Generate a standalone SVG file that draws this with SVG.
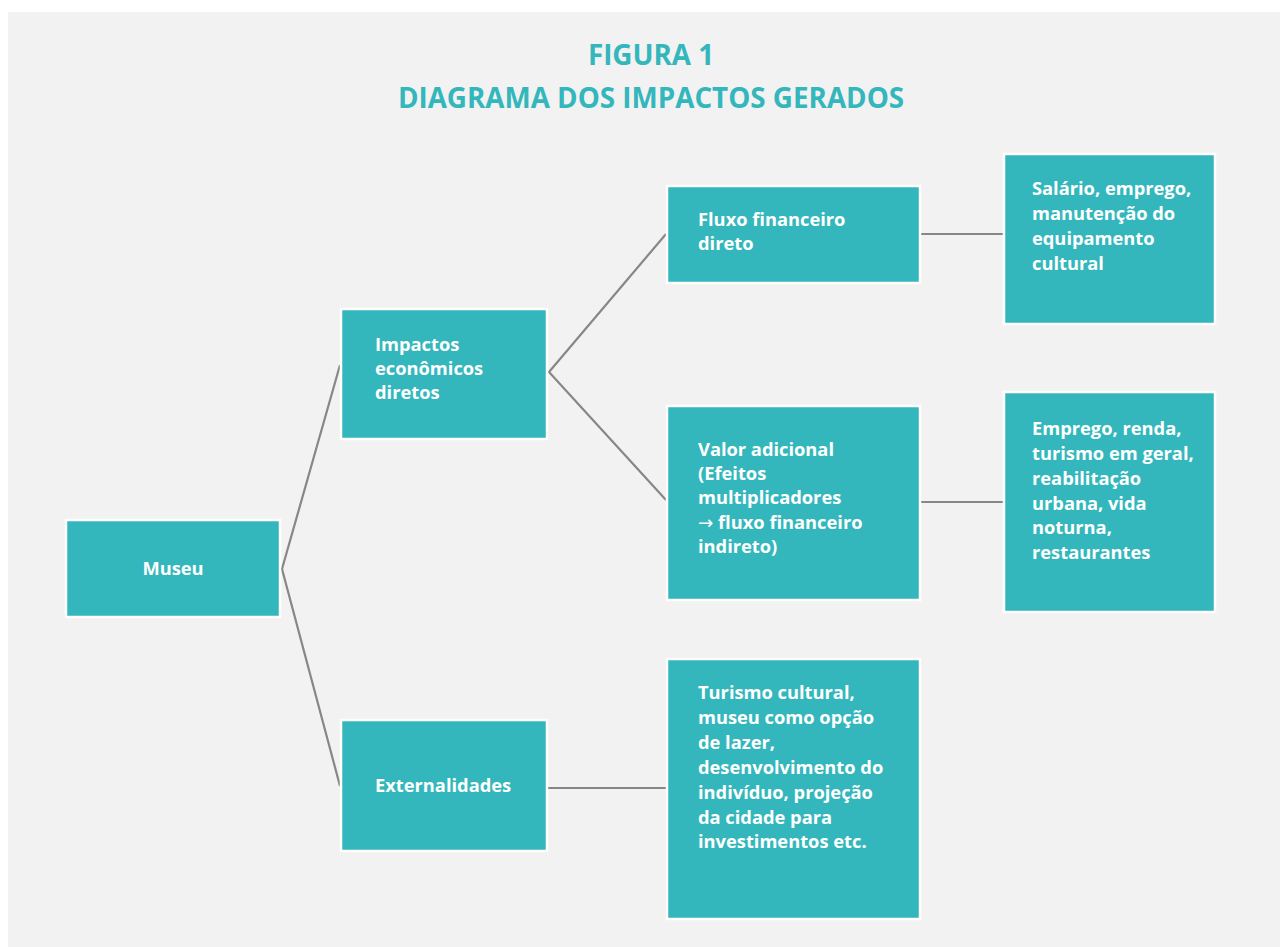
<svg xmlns="http://www.w3.org/2000/svg" width="1280" height="947" viewBox="0 0 1280 947">
<style>
.node{fill:#33b7bc;stroke:#ffffff;stroke-width:2.5}
.t{font-family:"Open Sans","Liberation Sans",sans-serif;font-weight:700;font-size:18.3px;fill:#ffffff}
.arr{font-family:"DejaVu Sans",sans-serif;font-weight:400}
.title{font-family:"Open Sans","Liberation Sans",sans-serif;font-weight:700;font-size:27.8px;fill:#33b7bc;text-anchor:middle}
.conn{stroke:#878787;stroke-width:2.2;fill:none}
</style>
<rect x="0" y="0" width="1280" height="947" fill="#ffffff"/>
<rect x="8" y="12" width="1272" height="935" fill="#f2f2f2"/>
<text class="title" x="651" y="65">FIGURA 1</text>
<text class="title" x="651" y="108">DIAGRAMA DOS IMPACTOS GERADOS</text>
<g id="connectors">
<polyline class="conn" points="340,365 282,569 340,786"/>
<polyline class="conn" points="666,234 549,372 666,500"/>
<line class="conn" x1="921" y1="234" x2="1003" y2="234"/>
<line class="conn" x1="921" y1="502" x2="1003" y2="502"/>
<line class="conn" x1="548" y1="788" x2="666" y2="788"/>
</g>
<g id="museu">
<rect class="node" x="66" y="520" width="214" height="97"/>
<text class="t" x="173" y="575" text-anchor="middle">Museu</text>
</g>
<g id="impactos">
<rect class="node" x="341" y="309" width="206" height="130"/>
<text class="t" x="375" y="351">Impactos</text>
<text class="t" x="375" y="375">econômicos</text>
<text class="t" x="375" y="399">diretos</text>
</g>
<g id="externalidades">
<rect class="node" x="341" y="720" width="206" height="131"/>
<text class="t" x="375" y="792">Externalidades</text>
</g>
<g id="fluxo">
<rect class="node" x="667" y="186" width="253" height="97"/>
<text class="t" x="698" y="226">Fluxo financeiro</text>
<text class="t" x="698" y="250">direto</text>
</g>
<g id="valor">
<rect class="node" x="667" y="406" width="253" height="194"/>
<text class="t" x="698" y="456">Valor adicional</text>
<text class="t" x="698" y="480">(Efeitos</text>
<text class="t" x="698" y="504">multiplicadores</text>
<text class="t" x="698" y="529"><tspan class="arr">→</tspan> fluxo financeiro</text>
<text class="t" x="698" y="553">indireto)</text>
</g>
<g id="turismo">
<rect class="node" x="667" y="659" width="253" height="260"/>
<text class="t" x="698" y="699">Turismo cultural,</text>
<text class="t" x="698" y="724">museu como opção</text>
<text class="t" x="698" y="749">de lazer,</text>
<text class="t" x="698" y="774">desenvolvimento do</text>
<text class="t" x="698" y="799">indivíduo, projeção</text>
<text class="t" x="698" y="824">da cidade para</text>
<text class="t" x="698" y="848">investimentos etc.</text>
</g>
<g id="salario">
<rect class="node" x="1004" y="154" width="211" height="170"/>
<text class="t" x="1032" y="195">Salário, emprego,</text>
<text class="t" x="1032" y="220">manutenção do</text>
<text class="t" x="1032" y="245">equipamento</text>
<text class="t" x="1032" y="270">cultural</text>
</g>
<g id="emprego">
<rect class="node" x="1004" y="392" width="211" height="220"/>
<text class="t" x="1032" y="435">Emprego, renda,</text>
<text class="t" x="1032" y="460">turismo em geral,</text>
<text class="t" x="1032" y="485">reabilitação</text>
<text class="t" x="1032" y="510">urbana, vida</text>
<text class="t" x="1032" y="534">noturna,</text>
<text class="t" x="1032" y="559">restaurantes</text>
</g>
</svg>
